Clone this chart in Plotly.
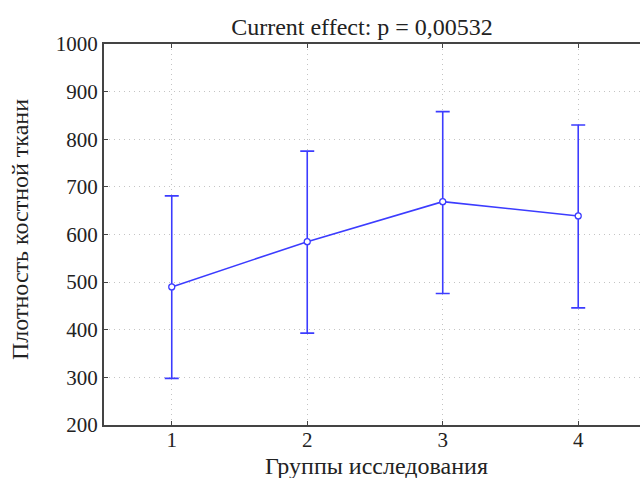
import plotly.graph_objects as go

groups = [1, 2, 3, 4]
means = [490, 585, 669, 639]
upper = [681, 775, 858, 830]
lower = [298, 393, 476, 446]

err_plus = [u - m for u, m in zip(upper, means)]
err_minus = [m - l for m, l in zip(means, lower)]

blue = "#3c3cff"
font_family = "Liberation Serif, Times New Roman, serif"
W, H = 640, 478

fig = go.Figure()
fig.add_trace(go.Scatter(
    x=groups, y=means,
    mode="lines+markers",
    line=dict(color=blue, width=1.6),
    marker=dict(symbol="circle", size=6, color="white", line=dict(color=blue, width=1.3)),
    error_y=dict(type="data", symmetric=False, array=err_plus, arrayminus=err_minus,
                 color=blue, thickness=1.6, width=7),
    showlegend=False,
))

fig.update_layout(
    width=W, height=H,
    margin=dict(l=104, r=0, t=44, b=53, autoexpand=False),
    paper_bgcolor="white", plot_bgcolor="white",
    font=dict(family=font_family, size=21, color="#222"),
    title=dict(text="Current effect: p = 0,00532", x=362/W, xanchor="center", xref="container",
               y=1 - 27/H, yanchor="middle", yref="container",
               font=dict(size=24, family=font_family, color="#222")),
    xaxis=dict(
        range=[0.5, 4.456], tickvals=groups, ticktext=[str(g) for g in groups],
        showline=True, linecolor="#444", linewidth=2, mirror="ticks",
        ticks="inside", ticklen=4, tickcolor="#444",
        showgrid=True, gridcolor="#c4c4c4", griddash="1px,4px", gridwidth=1,
        zeroline=False, automargin=False, ticklabelstandoff=-5,
        tickfont=dict(size=21),
    ),
    yaxis=dict(
        range=[200, 1000], tickvals=[200, 300, 400, 500, 600, 700, 800, 900, 1000],
        showline=True, linecolor="#444", linewidth=2, mirror=False,
        ticks="inside", ticklen=4, tickcolor="#444",
        showgrid=True, gridcolor="#c4c4c4", griddash="1px,4px", gridwidth=1,
        zeroline=False, automargin=False,
        tickfont=dict(size=21),
    ),
    annotations=[
        dict(text="Группы исследования", xref="paper", yref="paper",
             x=(376 - 104) / (W - 104), y=-(466 - 425) / (425 - 44),
             xanchor="center", yanchor="middle", showarrow=False,
             font=dict(size=24, family=font_family, color="#222")),
        dict(text="Плотность костной ткани", xref="paper", yref="paper",
             x=-(104 - 20) / (W - 104), y=(425 - 230) / (425 - 44),
             xanchor="center", yanchor="middle", showarrow=False, textangle=-90,
             font=dict(size=24, family=font_family, color="#222")),
    ],
)

fig.write_html("out.html", config={"displayModeBar": False},
               post_script="document.body.style.margin='0';document.body.style.overflow='hidden';")
